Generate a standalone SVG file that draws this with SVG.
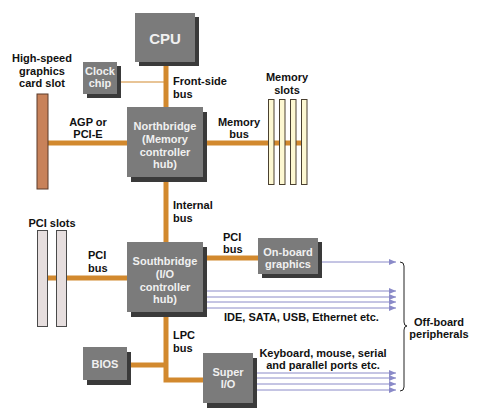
<svg xmlns="http://www.w3.org/2000/svg" width="480" height="420" viewBox="0 0 480 420">
<defs>
<style>
.box{fill:#7b7b7b}
.sh{fill:#3a3a3a}
.bt{font-family:"Liberation Sans",Arial,sans-serif;font-weight:bold;font-size:11px;fill:#f0f0f0;text-anchor:middle}
.lb{font-family:"Liberation Sans",Arial,sans-serif;font-weight:bold;font-size:11px;fill:#111}
.mid{text-anchor:middle}
.bus{stroke:#d2892e;stroke-width:5;fill:none}
.thin{stroke:#d2892e;stroke-width:1.2;fill:none}
.per{stroke:#8a8ac8;stroke-width:1;fill:none;marker-end:url(#ah)}
.mem{fill:#fdf8d2;stroke:#4a4030;stroke-width:1}
.pci{fill:#e6dede;stroke:#4a4a4a;stroke-width:1}
</style>
<marker id="ah" markerWidth="8" markerHeight="6" refX="7" refY="3" orient="auto" markerUnits="userSpaceOnUse">
<path d="M0,0 L7,3 L0,6 Z" fill="#8a8ac8"/>
</marker>
</defs>
<rect width="480" height="420" fill="#ffffff"/>

<g id="connectors">
<line class="bus" x1="166" y1="60" x2="166" y2="110"/>
<line class="thin" x1="117" y1="82" x2="166" y2="82"/>
<line class="bus" x1="46" y1="143" x2="130" y2="143"/>
<line class="bus" x1="203" y1="143" x2="302" y2="143"/>
<line class="bus" x1="166" y1="180" x2="166" y2="244"/>
<line class="bus" x1="46" y1="278" x2="130" y2="278"/>
<line class="bus" x1="203" y1="258" x2="260" y2="258"/>
<polyline class="bus" points="166,314 166,380 206,380"/>
<line class="bus" x1="127" y1="365" x2="166" y2="365"/>
<line class="per" x1="322" y1="262" x2="396" y2="262"/>
<line class="per" x1="206" y1="291" x2="396" y2="291"/>
<line class="per" x1="206" y1="297" x2="396" y2="297"/>
<line class="per" x1="206" y1="302" x2="396" y2="302"/>
<line class="per" x1="206" y1="308" x2="396" y2="308"/>
<line class="per" x1="257" y1="373" x2="396" y2="373"/>
<line class="per" x1="257" y1="378" x2="396" y2="378"/>
<line class="per" x1="257" y1="384" x2="396" y2="384"/>
<line class="per" x1="257" y1="390" x2="396" y2="390"/>
<path d="M400,262 Q404,262 404,266 L404,322 Q404,326 407,326 Q404,326 404,330 L404,387 Q404,391 400,391" fill="none" stroke="#222" stroke-width="1"/>
</g>

<g id="cpu">
<rect class="sh" x="139" y="17" width="60" height="49"/>
<rect class="box" x="135" y="13" width="60" height="49"/>
<text class="bt" x="165" y="44" style="font-size:15px">CPU</text>
</g>

<g id="clock-chip">
<rect class="sh" x="87" y="66" width="34" height="32"/>
<rect class="box" x="83" y="62" width="34" height="32"/>
<text class="bt" x="100" y="75">Clock</text>
<text class="bt" x="100" y="87">chip</text>
</g>

<g id="northbridge">
<rect class="sh" x="131" y="112" width="76" height="70"/>
<rect class="box" x="127" y="107" width="76" height="70"/>
<text class="bt" x="165" y="130">Northbridge</text>
<text class="bt" x="165" y="143">(Memory</text>
<text class="bt" x="165" y="156">controller</text>
<text class="bt" x="165" y="168">hub)</text>
</g>

<g id="graphics-slot">
<rect x="37" y="94" width="11" height="95" fill="#c8825a" stroke="#5a3a2a" stroke-width="1"/>
<text class="lb mid" x="42" y="62">High-speed</text>
<text class="lb mid" x="42" y="75">graphics</text>
<text class="lb mid" x="42" y="87">card slot</text>
</g>

<g id="memory-slots">
<rect class="mem" x="268.5" y="99.5" width="5.5" height="85"/>
<rect class="mem" x="279.5" y="99.5" width="5.5" height="85"/>
<rect class="mem" x="290.5" y="99.5" width="5.5" height="85"/>
<rect class="mem" x="301.5" y="99.5" width="5.5" height="85"/>
<text class="lb mid" x="287" y="81">Memory</text>
<text class="lb mid" x="287" y="94">slots</text>
</g>

<g id="pci-slots">
<rect class="pci" x="37.5" y="230.5" width="10" height="96"/>
<rect class="pci" x="56.5" y="230.5" width="10" height="96"/>
<text class="lb mid" x="52" y="227">PCI slots</text>
</g>

<g id="southbridge">
<rect class="sh" x="131" y="247" width="76" height="70"/>
<rect class="box" x="127" y="242" width="76" height="70"/>
<text class="bt" x="165" y="265">Southbridge</text>
<text class="bt" x="165" y="278">(I/O</text>
<text class="bt" x="165" y="291">controller</text>
<text class="bt" x="165" y="303">hub)</text>
</g>

<g id="onboard-graphics">
<rect class="sh" x="262" y="242" width="60" height="36"/>
<rect class="box" x="258" y="238" width="60" height="36"/>
<text class="bt" x="288" y="256">On-board</text>
<text class="bt" x="288" y="268">graphics</text>
</g>

<g id="bios">
<rect class="sh" x="87" y="352" width="44" height="33"/>
<rect class="box" x="83" y="347" width="44" height="33"/>
<text class="bt" x="105" y="368">BIOS</text>
</g>

<g id="super-io">
<rect class="sh" x="207" y="358" width="50" height="50"/>
<rect class="box" x="203" y="353" width="50" height="50"/>
<text class="bt" x="228" y="376">Super</text>
<text class="bt" x="228" y="388">I/O</text>
</g>

<g id="labels">
<text class="lb" x="173" y="85">Front-side</text>
<text class="lb" x="173" y="98">bus</text>
<text class="lb mid" x="88" y="126">AGP or</text>
<text class="lb mid" x="88" y="138">PCI-E</text>
<text class="lb mid" x="239" y="126">Memory</text>
<text class="lb mid" x="239" y="138">bus</text>
<text class="lb" x="173" y="209">Internal</text>
<text class="lb" x="173" y="222">bus</text>
<text class="lb" x="88" y="259">PCI</text>
<text class="lb" x="88" y="272">bus</text>
<text class="lb" x="223" y="241">PCI</text>
<text class="lb" x="223" y="253">bus</text>
<text class="lb" x="224" y="321">IDE, SATA, USB, Ethernet etc.</text>
<text class="lb" x="173" y="339">LPC</text>
<text class="lb" x="173" y="352">bus</text>
<text class="lb mid" x="323" y="357">Keyboard, mouse, serial</text>
<text class="lb mid" x="323" y="369">and parallel ports etc.</text>
<text class="lb mid" x="439" y="326">Off-board</text>
<text class="lb mid" x="439" y="338">peripherals</text>
</g>
</svg>
